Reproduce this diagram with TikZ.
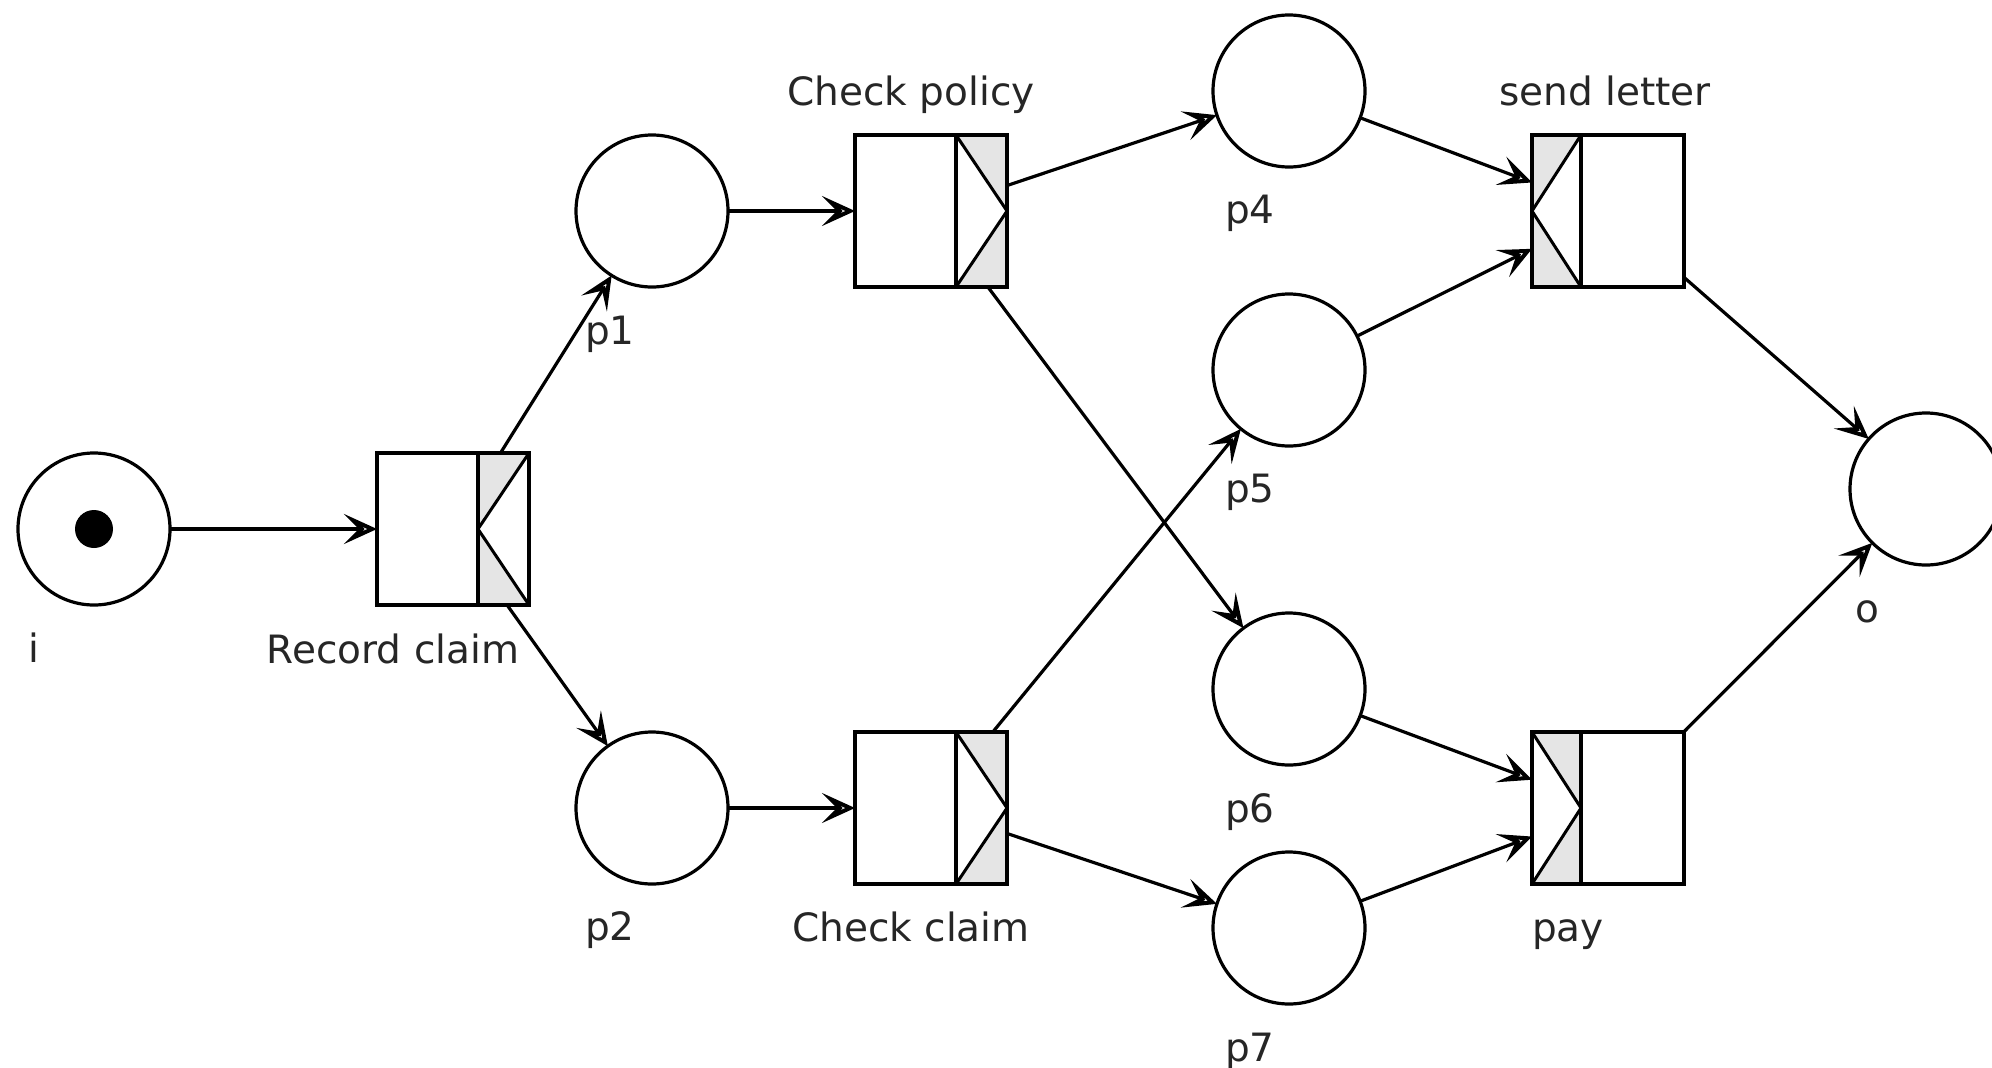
\documentclass[tikz,border=0pt]{standalone}
\usepackage{fontspec}
\setmainfont{DejaVu Sans}
\usetikzlibrary{arrows.meta,calc}
\tikzset{
  place/.style={circle, draw, line width=3.2pt, minimum size=152pt, inner sep=0pt, outer sep=0pt, fill=white},
  trans/.style={rectangle, fill=white, line width=3.6pt, minimum width=152pt, minimum height=152pt, inner sep=0pt, outer sep=0pt},
  tborder/.style={draw, line width=3.6pt},
  shadefill/.style={fill=black!10},
  diag/.style={line width=3pt},
  arc/.style={line width=3.2pt, -{Stealth[open, length=33pt, width=30pt, inset=15pt, line width=4pt]}},
  lbl/.style={anchor=base, inner sep=0pt, font=\fontsize{39}{47}\selectfont, text=black!85},
  token/.style={circle, fill=black, minimum size=38pt, inner sep=0pt},
}
\newcommand\stripegt[2]{%
  \fill[shadefill] (#1) -- (#1 -| #2) -- ($(#1 -| #2)!0.5!(#2)$) -- cycle;
  \fill[shadefill] ($(#1 -| #2)!0.5!(#2)$) -- (#2) -- (#1 |- #2) -- cycle;
  \draw[diag] (#1) -- ($(#1 -| #2)!0.5!(#2)$) -- (#1 |- #2);
}
\newcommand\stripelt[2]{%
  \fill[shadefill] (#1) -- (#1 -| #2) -- ($(#1)!0.5!(#1 |- #2)$) -- cycle;
  \fill[shadefill] ($(#1)!0.5!(#1 |- #2)$) -- (#2) -- (#1 |- #2) -- cycle;
  \draw[diag] (#1 -| #2) -- ($(#1)!0.5!(#1 |- #2)$) -- (#2);
}
\begin{document}
\begin{tikzpicture}[x=1pt, y=-1pt]
\fill[white] (0,0) rectangle (1992,1068);
\useasboundingbox (0,0) rectangle (1992,1068);

% places
\node[place] (i)  at (94,529) {};
\node[token] (tok) at (i.center) {};
\node[place] (p1) at (652,211) {};
\node[place] (p2) at (652,808) {};
\node[place] (p4) at (1289,91) {};
\node[place] (p5) at (1289,370) {};
\node[place] (p6) at (1289,689) {};
\node[place] (p7) at (1289,928) {};
\node[place] (o)  at (1926,489) {};

% transitions
\node[trans] (rc)  at (453,529) {};
\node[trans] (cp)  at (931,211) {};
\node[trans] (cc)  at (931,808) {};
\node[trans] (sl)  at (1608,211) {};
\node[trans] (pay) at (1608,808) {};

\coordinate (rcA) at ($(rc.north east)+(-51,0)$);
\coordinate (cpA) at ($(cp.north east)+(-51,0)$);
\coordinate (ccA) at ($(cc.north east)+(-51,0)$);
\coordinate (slB) at ($(sl.south west)+(49,0)$);
\coordinate (payB) at ($(pay.south west)+(49,0)$);

\stripelt{rcA}{rc.south east}
\stripegt{cpA}{cp.south east}
\stripegt{ccA}{cc.south east}
\stripelt{sl.north west}{slB}
\stripegt{pay.north west}{payB}

\draw[tborder] (rcA) -- (rcA |- rc.south east);
\draw[tborder] (cpA) -- (cpA |- cp.south east);
\draw[tborder] (ccA) -- (ccA |- cc.south east);
\draw[tborder] (slB) -- (slB |- sl.north west);
\draw[tborder] (payB) -- (payB |- pay.north west);
\foreach \t in {rc,cp,cc,sl,pay}
  \draw[tborder] (\t.north west) rectangle (\t.south east);

% arcs
\draw[arc] (i) -- (rc);
\draw[arc] (rc) -- (p1);
\draw[arc] (rc) -- (p2);
\draw[arc] (p1) -- (cp);
\draw[arc] (p2) -- (cc);
\draw[arc] (cp) -- (p4);
\draw[arc] (cp) -- (p6);
\draw[arc] (cc) -- (p5);
\draw[arc] (cc) -- (p7);
\draw[arc] (p4) -- (sl);
\draw[arc] (p5) -- (sl);
\draw[arc] (p6) -- (pay);
\draw[arc] (p7) -- (pay);
\draw[arc] (sl) -- (o);
\draw[arc] (pay) -- (o);

% labels
\node[lbl] (li)  at (34,662)   {i};
\node[lbl] (lrc) at (393,663)  {Record claim};
\node[lbl] (lp1) at (610,344)  {p1};
\node[lbl] (lp2) at (610,940)  {p2};
\node[lbl] (lcp) at (911,105)  {Check policy};
\node[lbl] (lcc) at (911,941)  {Check claim};
\node[lbl] (lp4) at (1250,223) {p4};
\node[lbl] (lp5) at (1250,502) {p5};
\node[lbl] (lp6) at (1250,822) {p6};
\node[lbl] (lp7) at (1250,1061) {p7};
\node[lbl] (lsl) at (1605,105) {send letter};
\node[lbl] (lpay) at (1568,941) {pay};
\node[lbl] (lo)  at (1867,622) {o};
\end{tikzpicture}
\end{document}
